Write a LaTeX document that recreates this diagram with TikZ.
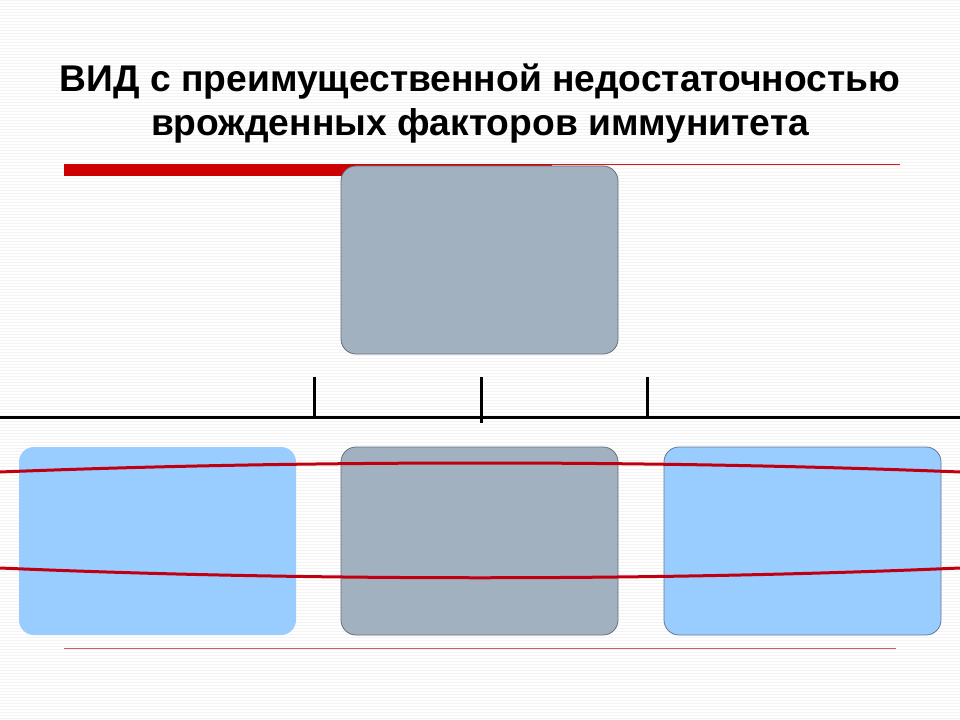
\documentclass[tikz,border=0pt]{standalone}
\usepackage{fontspec}
\setmainfont{Liberation Sans}
\definecolor{stripe}{RGB}{243,243,243}
\definecolor{boxgray}{RGB}{162,177,192}
\definecolor{boxgrayedge}{RGB}{100,110,125}
\definecolor{boxblue}{RGB}{153,204,255}
\definecolor{boxblueedge}{RGB}{100,120,150}
\definecolor{wavered}{RGB}{192,0,16}
\definecolor{barred}{RGB}{204,0,0}
\definecolor{thinred}{RGB}{220,20,20}
\definecolor{palered}{RGB}{210,90,100}
\begin{document}
\begin{tikzpicture}[x=1bp,y=-1bp,
  box/.style={rounded corners=15bp,inner sep=0pt,outer sep=0pt,minimum width=277bp,minimum height=188bp,anchor=north west},
  graybox/.style={box,fill=boxgray,draw=boxgrayedge,line width=0.8bp},
  bluebox/.style={box,fill=boxblue},
  bluedraw/.style={bluebox,draw=boxblueedge,line width=0.8bp},
  tree/.style={line width=3bp,black},
  redwave/.style={line width=3bp,draw=wavered},
  titletext/.style={font=\fontsize{37.2bp}{44bp}\selectfont\bfseries,anchor=base,inner sep=0pt}]
\useasboundingbox (0,0) rectangle (960,720);
\fill[white] (0,0) rectangle (960,720);
\foreach \yy in {1,4,...,720} {\draw[line width=1bp,stripe] (0,\yy) -- (960,\yy);}
% title
\node[titletext] (title1) at (480,92) {ВИД с преимущественной недостаточностью};
\node[titletext] (title2) at (480,136) {врожденных факторов иммунитета};
% red rules
\fill[barred] (64,164) rectangle (552,176);
\draw[line width=1.3bp,thinred] (552,164.5) -- (900,164.5);
\draw[line width=1bp,palered] (64,648) -- (896,648);
% boxes
\node[graybox] (top) at (341,166) {};
\node[bluebox] (left) at (19,447) {};
\node[graybox] (mid) at (341,447) {};
\node[bluedraw] (right) at (664,447) {};
% tree connector
\coordinate (hl) at (0,417);
\coordinate (hr) at (960,417);
\coordinate (t1a) at (314,377); \coordinate (t1b) at (314,417);
\coordinate (t2a) at (481,377); \coordinate (t2b) at (481,423);
\coordinate (t3a) at (647,377); \coordinate (t3b) at (647,417);
\draw[tree] (hl) -- (hr);
\draw[tree] (t1a) -- (t1b);
\draw[tree] (t2a) -- (t2b);
\draw[tree] (t3a) -- (t3b);
% red wavy lines
\coordinate (w1l) at (0,472); \coordinate (w1r) at (960,472);
\coordinate (w2l) at (0,568); \coordinate (w2r) at (960,568);
\draw[redwave] (w1l) .. controls (300,460) and (660,460) .. (w1r);
\draw[redwave] (w2l) .. controls (300,581) and (660,581) .. (w2r);
\end{tikzpicture}
\end{document}
